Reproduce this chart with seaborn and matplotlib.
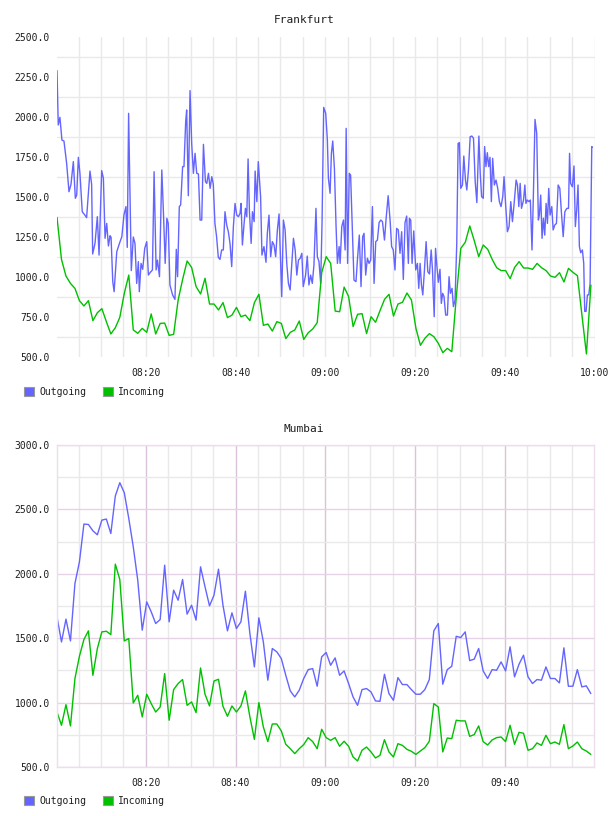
import numpy as np
import pandas as pd
import matplotlib
matplotlib.use("Agg")
import matplotlib.pyplot as plt
import seaborn as sns
from matplotlib.patches import Patch
from matplotlib.ticker import FixedLocator, FuncFormatter

sns.set_style("white")
plt.rcParams['font.family'] = ['DejaVu Sans Mono', 'DejaVu Sans']

# ---------------- data ----------------
series_names = ["Outgoing", "Incoming"]
series_colors = ["#6464ff", "#00c000"]
titles = ["Frankfurt", "Mumbai"]

# minutes after 08:00 for the 1-minute samples
minute_start = 0.2
n_minutes = 120

# Frankfurt outgoing (irregular, minutes after 08:00)
fra_out_t = [
    0.20, 0.48, 0.85, 1.30, 1.75, 2.35, 2.87, 3.32, 3.84, 4.29, 4.59, 4.96, 5.31, 5.83, 6.28, 6.80,
    7.55, 7.92, 8.15, 8.67, 9.19, 9.57, 10.16, 10.54, 10.91, 11.28, 11.66, 12.03, 12.25, 12.63, 12.93,
    13.52, 14.12, 14.65, 15.12, 15.57, 15.86, 16.16, 16.76, 17.21, 17.58, 17.96, 18.33, 18.55, 18.93,
    19.30, 19.75, 20.20, 20.57, 20.94, 21.47, 21.84, 22.29, 22.59, 23.04, 23.56, 23.93, 24.31, 24.68,
    24.99, 25.37, 25.96, 26.49, 26.79, 27.08, 27.46, 27.76, 28.20, 28.50, 28.88, 29.10, 29.47, 29.85,
    30.22, 30.60, 30.97, 31.34, 31.72, 32.09, 32.46, 32.84, 33.28, 33.58, 33.96, 34.33, 34.70, 35.03,
    35.40, 35.77, 36.15, 36.52, 36.90, 37.27, 37.64, 38.02, 38.39, 38.76, 39.14, 39.51, 39.88, 40.26,
    40.63, 41.00,
    41.23, 41.52, 41.90, 42.20, 42.50, 42.79, 43.09, 43.47, 43.76, 44.14, 44.36, 44.74, 45.06, 45.58,
    45.88, 46.33, 46.78, 47.08, 47.45, 47.82, 48.20, 48.57, 48.94, 49.32, 49.69, 49.92, 50.29, 50.66,
    51.04, 51.41, 51.78, 52.16, 52.53, 52.90, 53.28, 53.65, 54.02, 54.40, 54.77, 55.08, 55.61, 55.98,
    56.35, 56.73, 57.10, 57.47, 57.92, 58.22, 58.59, 58.97, 59.27, 59.64, 60.09, 60.46, 60.69, 61.06,
    61.36, 61.66, 62.03, 62.40, 62.70, 63.08, 63.30, 63.67, 64.05, 64.42, 64.65, 64.97, 65.34, 65.64,
    66.09, 66.39, 66.84, 67.21, 67.58, 67.96, 68.33, 68.63, 69.00, 69.38, 69.75, 70.12, 70.50, 70.87,
    71.24, 71.62, 71.99, 72.36, 72.74, 73.19, 73.56, 74.01, 74.46, 74.78, 75.15, 75.53, 75.90, 76.27,
    76.65, 77.02, 77.39, 77.77, 78.14, 78.51, 78.74, 79.04, 79.34, 79.71, 80.16, 80.53, 80.83, 81.13,
    81.43, 81.73, 82.10, 82.47, 82.85, 83.22,
    83.60, 83.89, 84.27, 84.57, 84.82, 85.19, 85.56, 85.86, 86.16, 86.46, 86.83, 87.21, 87.58, 87.88,
    88.25, 88.55, 88.92, 89.30, 89.60, 89.89, 90.19, 90.57, 90.87, 91.24, 91.54, 91.91, 92.29, 92.66,
    93.03, 93.41, 93.78, 94.23, 94.53, 94.84, 95.21, 95.51, 95.81, 96.11, 96.41, 96.71, 97.01, 97.30,
    97.68, 98.05, 98.43, 98.80, 99.17, 99.55, 99.84, 100.22, 100.59, 100.96, 101.34, 101.71, 102.09,
    102.53, 102.83, 103.13, 103.43, 103.73, 104.18, 104.48, 104.72, 105.02, 105.40, 105.70, 106.07,
    106.37, 106.74, 107.12, 107.49, 107.71, 108.01, 108.31, 108.61, 108.91, 109.21, 109.51, 109.80,
    110.10, 110.48, 110.78, 111.15, 111.52, 111.90, 112.27, 112.64, 113.02, 113.39, 113.84, 114.21,
    114.44, 114.68, 115.06, 115.43, 115.73, 116.03, 116.33, 116.63, 116.93, 117.30, 117.60, 117.82,
    118.12, 118.42, 118.72, 119.02, 119.39, 119.54,
]
fra_out = [
    2290, 1950, 1998, 1856, 1850, 1710, 1533, 1579, 1721, 1492, 1512, 1748, 1648, 1408, 1392, 1371,
    1662, 1579, 1144, 1210, 1377, 1137, 1665, 1617, 1242, 1335, 1194, 1258, 1248, 971, 908,
    1158, 1210, 1252, 1387, 1440, 1185, 2023, 1040, 1250, 1210, 960, 1096, 908, 1085,
    1048, 1179, 1221, 1012, 1027, 1044, 1658, 1044, 1106, 1002, 1669, 1398, 1085, 1367,
    1335, 950, 888, 860, 1173, 1002, 1440, 1450, 1690, 1690, 1971, 2044, 1508, 2165,
    1835, 1648, 1773, 1648, 1644, 1356, 1356, 1829, 1596, 1585, 1648, 1554, 1627, 1581,
    1335, 1252, 1123, 1110, 1169, 1169, 1408, 1325, 1283, 1210, 1065, 1315, 1460, 1387,
    1377, 1398,
    1460, 1200, 1335, 1429, 1377, 1738, 1408, 1210, 1408, 1346, 1662, 1471, 1721, 1502,
    1137, 1190, 1092, 1273, 1387, 1127, 1221, 1200, 1127, 1294, 1394, 1190, 877, 1356,
    1294, 1085, 960, 919, 1085, 1242, 1169, 1012, 1106, 1117, 1148, 940, 1012, 1131,
    950, 1012, 960, 1075, 1429, 1127, 1096, 960, 1335, 2060, 2023, 1856, 1617, 1523,
    1773, 1850, 1679, 1315, 1085, 1190, 1085, 1315, 1356, 1169, 1929, 1085, 1648, 1637,
    1252, 981, 971, 1127, 1262, 940, 1252, 1273, 1012, 1117, 1085, 1106, 1440, 960,
    1221, 1231, 1340, 1356, 1346, 1231, 1367, 1508, 1346, 1190, 1169, 1044, 1304, 1294,
    1148, 1283, 985, 1340, 1381, 1085, 1367, 1356, 1085, 1288, 1044, 1085, 929, 1085,
    950, 888, 1044, 1221, 1033, 1019,
    1169, 1044, 752, 1179, 1085, 967, 1048, 835, 898, 877, 762, 762, 1002, 898,
    929, 815, 856, 1210, 1835, 1840, 1554, 1575, 1756, 1606, 1544, 1669, 1877, 1881,
    1867, 1596, 1465, 1881, 1648, 1502, 1492, 1815, 1690, 1777, 1690, 1748, 1471, 1742,
    1575, 1606, 1554, 1471, 1440, 1502, 1627, 1440, 1283, 1315, 1471, 1346, 1460,
    1606, 1575, 1440, 1585, 1429, 1481, 1575, 1460, 1481, 1471, 1481, 1169,
    1502, 1985, 1898, 1356, 1387, 1512, 1242, 1367, 1262, 1460, 1335, 1554,
    1387, 1440, 1294, 1325, 1335, 1575, 1554, 1398, 1252, 1408, 1429, 1429,
    1773, 1585, 1564, 1694, 1315, 1419, 1575, 1190, 1152, 1169, 1085, 785,
    785, 888, 888, 960, 1815, 1810,
]

# Frankfurt incoming (one value per minute)
fra_in = [
    1373, 1110, 1006, 960, 929, 852, 819, 852, 727, 777, 802, 721, 644, 683, 748, 898, 1012, 669, 648, 679,
    654, 769, 644, 710, 712, 635, 642, 856, 985, 1100, 1060, 940, 894, 992, 831, 831, 794, 840, 746, 762,
    810, 752, 762, 727, 840, 892, 698, 706, 662, 721, 710, 615, 654, 669, 725, 610, 652, 675, 715, 1027,
    1127, 1085, 787, 783, 937, 877, 690, 767, 771, 646, 752, 717, 790, 860, 892, 756, 831, 842, 900, 856,
    679, 573, 617, 646, 627, 585, 527, 554, 533, 877, 1179, 1217, 1319, 1227, 1127, 1200, 1173, 1110, 1058, 1040,
    1040, 990, 1060, 1096, 1056, 1056, 1048, 1085, 1058, 1040, 1006, 998, 1027, 969, 1054, 1029, 1008, 762, 519, 950,
]

# Mumbai (one value per minute)
mum_out = [
    1666, 1471, 1648, 1479, 1925, 2093, 2386, 2383, 2334, 2303, 2417, 2425, 2313, 2604, 2707, 2630, 2430, 2210, 1951, 1562,
    1782, 1705, 1614, 1645, 2067, 1627, 1873, 1795, 1956, 1687, 1756, 1640, 2054, 1899, 1751, 1834, 2036, 1756, 1557, 1697,
    1575, 1627, 1865, 1536, 1277, 1658, 1471, 1174, 1420, 1394, 1342, 1212, 1091, 1044, 1096, 1187, 1256, 1264, 1127, 1355,
    1389, 1290, 1347, 1212, 1246, 1148, 1044, 979, 1101, 1109, 1083, 1013, 1010, 1220, 1070, 1018, 1194, 1140, 1140, 1101,
    1065, 1065, 1101, 1179, 1557, 1614, 1143, 1256, 1282, 1515, 1505, 1549, 1326, 1337, 1420, 1246, 1187, 1256, 1251, 1316,
    1246, 1433, 1200, 1298, 1368, 1200, 1148, 1179, 1174, 1277, 1187, 1187, 1153, 1425, 1127, 1127, 1256, 1122, 1130, 1070,
]
mum_in = [
    927, 824, 984, 819, 1187, 1360, 1490, 1557, 1212, 1420, 1549, 1554, 1528, 2075, 1956, 1479, 1497, 997, 1057, 889,
    1065, 992, 927, 966, 1225, 863, 1101, 1148, 1179, 979, 1005, 922, 1269, 1065, 974, 1168, 1181, 971, 894, 974,
    927, 974, 1091, 889, 715, 1000, 811, 697, 834, 834, 780, 676, 642, 604, 642, 674, 728, 697, 642, 793,
    728, 707, 728, 661, 700, 661, 578, 547, 630, 655, 617, 570, 591, 712, 617, 578, 681, 668, 637, 622,
    598, 624, 650, 700, 992, 966, 617, 725, 720, 863, 858, 858, 738, 751, 819, 697, 671, 710, 728, 733,
    697, 824, 676, 769, 762, 630, 642, 687, 668, 746, 681, 694, 676, 829, 642, 663, 694, 642, 624, 598,
]

x_labels_fra = ["08:20", "08:40", "09:00", "09:20", "09:40", "10:00"]
x_labels_mum = ["08:20", "08:40", "09:00", "09:20", "09:40"]
fra_yticks = [500, 750, 1000, 1250, 1500, 1750, 2000, 2250, 2500]
mum_yticks = [500, 1000, 1500, 2000, 2500, 3000]

# ---------------- helpers ----------------
minutes = minute_start + np.arange(n_minutes)


def label_to_min(lbl):
    h, m = lbl.split(":")
    return (int(h) - 8) * 60 + int(m)


def build_frame(out_t, out_v, in_t, in_v):
    a = pd.DataFrame({"t": out_t, "v": out_v, "s": series_names[0]})
    b = pd.DataFrame({"t": in_t, "v": in_v, "s": series_names[1]})
    return pd.concat([a, b], ignore_index=True)


W, H = 608, 816
fig = plt.figure(figsize=(W / 100, H / 100), dpi=100)


def axes_px(l, t, r, b):
    return fig.add_axes([l / W, 1 - b / H, (r - l) / W, (b - t) / H])


palette = dict(zip(series_names, series_colors))
text_color = "#1e1e1e"
grid_gray = "#e9e9e9"
pink_vmajor = "#d9c3d9"
pink_hmajor = "#e6d2e6"
pink_frame = "#eddded"

XL, XR = 57, 594.5
XMIN, XMAX = 0.2, 120.0

# ---------- Frankfurt ----------
ax1 = axes_px(XL, 37, XR, 357)
df1 = build_frame(fra_out_t, fra_out, minutes, fra_in)
sns.lineplot(data=df1, x="t", y="v", hue="s", palette=palette, ax=ax1, legend=False,
             estimator=None, sort=False, linewidth=1.0)
ax1.set_xlim(XMIN, XMAX)
ax1.set_ylim(500, 2500)
ax1.set_axisbelow(True)
ax1.yaxis.set_major_locator(FixedLocator(fra_yticks))
ax1.yaxis.set_minor_locator(FixedLocator([v + 125 for v in fra_yticks[:-1]]))
ax1.yaxis.set_major_formatter(FuncFormatter(lambda v, p: f"{v:.1f}"))
ax1.xaxis.set_major_locator(FixedLocator([label_to_min(s) for s in x_labels_fra]))
ax1.set_xticklabels(x_labels_fra)
ax1.xaxis.set_minor_locator(FixedLocator(np.arange(5, 121, 5)))
ax1.grid(False)
ax1.grid(True, which="minor", axis="y", color=grid_gray, linewidth=1.0)
ax1.grid(True, which="both", axis="x", color=grid_gray, linewidth=1.0)
for s in ax1.spines.values():
    s.set_visible(False)

# ---------- Mumbai ----------
ax2 = axes_px(XL, 445, XR - 1, 767)
df2 = build_frame(minutes, mum_out, minutes, mum_in)
sns.lineplot(data=df2, x="t", y="v", hue="s", palette=palette, ax=ax2, legend=False,
             estimator=None, sort=False, linewidth=1.0)
ax2.set_xlim(XMIN, XMAX - 0.2)
ax2.set_ylim(500, 3000)
ax2.set_axisbelow(True)
ax2.yaxis.set_major_locator(FixedLocator(mum_yticks))
ax2.yaxis.set_minor_locator(FixedLocator([v + 250 for v in mum_yticks[:-1]]))
ax2.yaxis.set_major_formatter(FuncFormatter(lambda v, p: f"{v:.1f}"))
ax2.xaxis.set_major_locator(FixedLocator([label_to_min(s) for s in x_labels_mum]))
ax2.set_xticklabels(x_labels_mum)
ax2.xaxis.set_minor_locator(FixedLocator([m for m in range(5, 120, 5) if m % 20 != 0]))
ax2.grid(False)
ax2.grid(True, which="minor", axis="both", color=grid_gray, linewidth=1.0)
ax2.grid(True, which="major", axis="x", color=pink_vmajor, linewidth=1.0)
ax2.grid(True, which="major", axis="y", color=pink_hmajor, linewidth=1.0)
for s in ax2.spines.values():
    s.set_visible(True)
    s.set_color(pink_frame)
    s.set_linewidth(1.0)

for ax in (ax1, ax2):
    ax.set_xlabel("")
    ax.set_ylabel("")
    ax.tick_params(axis="both", which="both", length=0, labelsize=7, colors=text_color)
    ax.tick_params(axis="y", pad=5)
    ax.tick_params(axis="x", pad=8)

# ---------- titles ----------
fig.text(304 / W, 1 - 20 / H, titles[0], ha="center", va="center", fontsize=8, color=text_color)
fig.text(304 / W, 1 - 429 / H, titles[1], ha="center", va="center", fontsize=8, color=text_color)

# ---------- legends ----------
handles = [Patch(facecolor=c, edgecolor="#999999", linewidth=0.8) for c in series_colors]
for ycen in (392, 801):
    fig.legend(handles, series_names, loc="center left",
               bbox_to_anchor=(24 / W, 1 - ycen / H), ncol=2, frameon=False,
               fontsize=7, handlelength=1.05, handleheight=1.05, handletextpad=0.5,
               columnspacing=1.7, borderpad=0, borderaxespad=0, labelcolor=text_color)

fig.savefig("out.png", dpi=100)
